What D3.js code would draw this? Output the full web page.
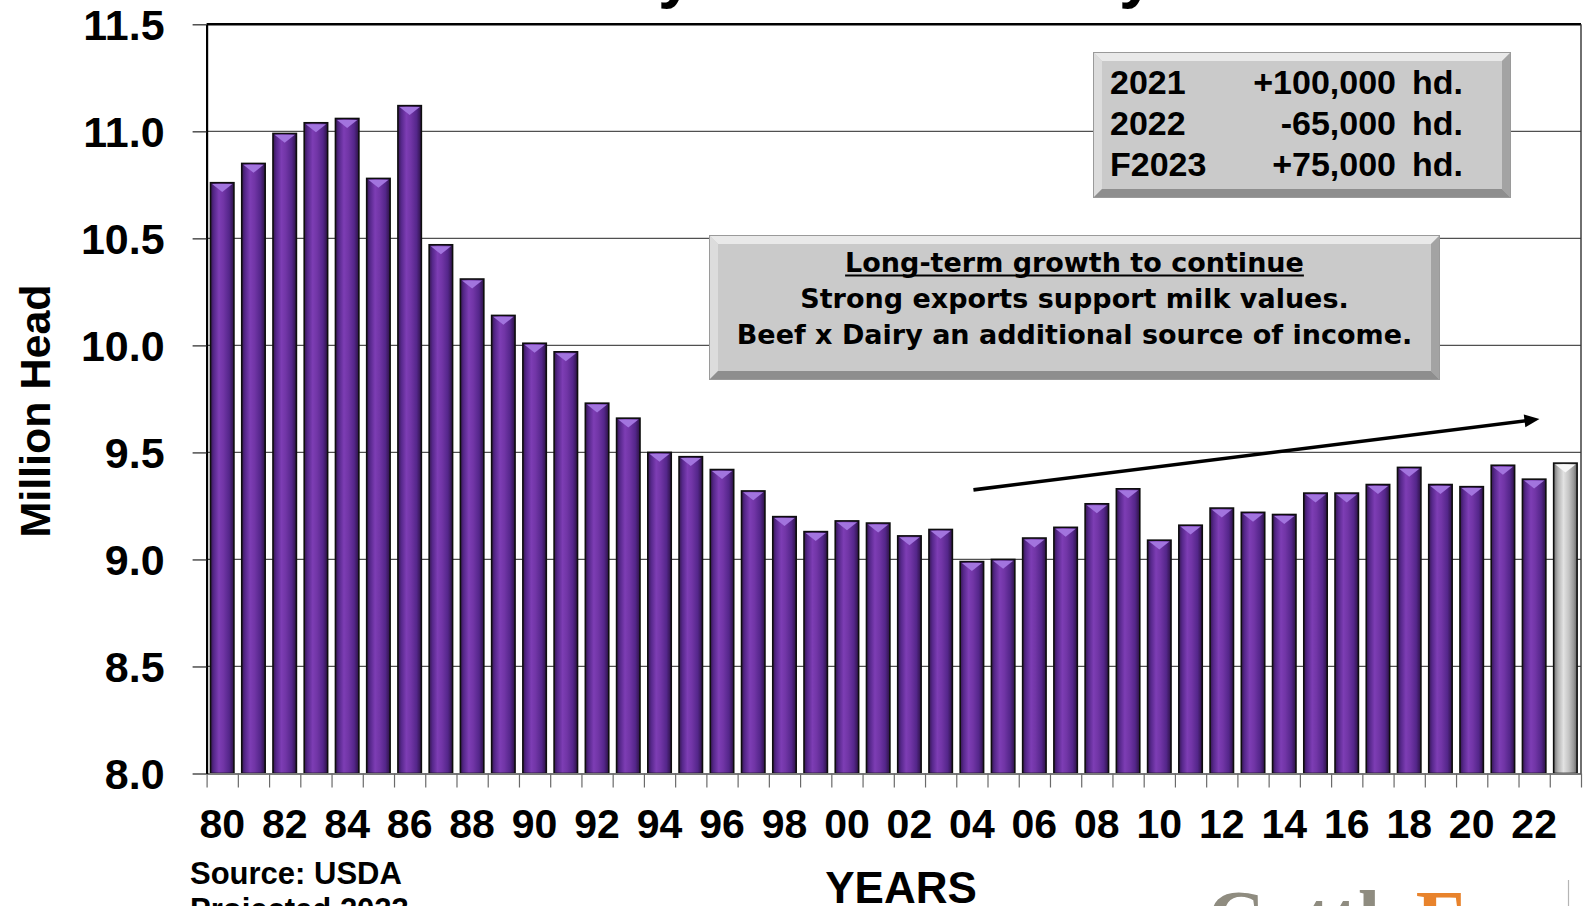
<!DOCTYPE html>
<html>
<head>
<meta charset="utf-8">
<script src="https://cdn.jsdelivr.net/npm/d3@7"></script>
<style>
  html, body { margin: 0; padding: 0; background: #fff; overflow: hidden; }
  svg { display: block; }
</style>
</head>
<body>
<svg id="chart" width="1583" height="906"></svg>
<script>
// January 1 dairy cow inventory, million head (2023 is a forecast)
const years = [
  1980, 1981, 1982, 1983, 1984, 1985, 1986, 1987, 1988, 1989,
  1990, 1991, 1992, 1993, 1994, 1995, 1996, 1997, 1998, 1999,
  2000, 2001, 2002, 2003, 2004, 2005, 2006, 2007, 2008, 2009,
  2010, 2011, 2012, 2013, 2014, 2015, 2016, 2017, 2018, 2019,
  2020, 2021, 2022, 2023
];
const dairyCows = [
  10.76, 10.85, 10.99, 11.04, 11.06, 10.78, 11.12, 10.47, 10.31, 10.14,
  10.01, 9.97, 9.73, 9.66, 9.50, 9.48, 9.42, 9.32, 9.20, 9.13,
  9.18, 9.17, 9.11, 9.14, 8.99, 9.00, 9.10, 9.15, 9.26, 9.33,
  9.09, 9.16, 9.24, 9.22, 9.21, 9.31, 9.31, 9.35, 9.43, 9.35,
  9.34, 9.44, 9.375, 9.45
];
const forecastYears = [2023];

const labeledYears = [1980, 1982, 1984, 1986, 1988, 1990, 1992, 1994, 1996, 1998,
  2000, 2002, 2004, 2006, 2008, 2010, 2012, 2014, 2016, 2018, 2020, 2022];
const yTicks = [8.0, 8.5, 9.0, 9.5, 10.0, 10.5, 11.0, 11.5];

const changeRows = [
  { year: "2021",  change: "+100,000" },
  { year: "2022",  change: "-65,000" },
  { year: "F2023", change: "+75,000" }
];
const outlookLines = [
  "Long-term growth to continue",
  "Strong exports support milk values.",
  "Beef x Dairy an additional source of income."
];
// trend arrow, in (year, million head)
const trendFrom = [2004.55, 9.325];
const trendTo = [2022.67, 9.656];

const data = years.map((yr, i) => ({ year: yr, value: dairyCows[i], forecast: forecastYears.includes(yr) }));

const W = 1583, H = 906;
const plot = { left: 206.6, right: 1581, top: 24.3, bottom: 773.5 };
const SANS = "'Liberation Sans', Arial, Helvetica, sans-serif";

const svg = d3.select("#chart");
svg.append("rect").attr("width", W).attr("height", H).attr("fill", "#fff");

const x = d3.scaleBand().domain(years).range([plot.left, plot.right])
  .paddingInner(0.25).paddingOuter(0.125);
const edge = d3.scaleLinear().domain([years[0], years[years.length - 1] + 1])
  .range([plot.left, plot.right]);
const y = d3.scaleLinear().domain([8, 11.5]).range([plot.bottom, plot.top]);

// gradients
const defs = svg.append("defs");
function hGrad(id, stops) {
  const g = defs.append("linearGradient").attr("id", id)
    .attr("x1", 0).attr("x2", 1).attr("y1", 0).attr("y2", 0);
  stops.forEach(([o, c]) => g.append("stop").attr("offset", o).attr("stop-color", c));
}
hGrad("barPurple", [[0, "#35174f"], [0.14, "#55278a"], [0.36, "#7d3db4"], [0.55, "#7135a6"], [0.8, "#54268a"], [1, "#2c1245"]]);
hGrad("barGray", [[0, "#6f6f6f"], [0.18, "#b2b2b2"], [0.42, "#e2e2e2"], [0.65, "#c4c4c4"], [0.85, "#9a9a9a"], [1, "#666"]]);

// title (runs off the top of the page)
const title = svg.append("text")
  .attr("x", 0).attr("y", -4)
  .attr("font-family", SANS).attr("font-weight", "bold").attr("font-size", 64)
  .attr("fill", "#000")
  .text("U.S. Dairy Cow Inventory");
{
  const node = title.node();
  const s = "U.S. Dairy Cow Inventory";
  const i1 = s.indexOf("y"), i2 = s.lastIndexOf("y");
  const c1 = node.getExtentOfChar(i1), c2 = node.getExtentOfChar(i2);
  const m1 = c1.x + c1.width / 2, m2 = c2.x + c2.width / 2;
  const fs = 64 * (1137 - 676) / (m2 - m1);
  title.attr("font-size", fs);
  const d1 = node.getExtentOfChar(i1);
  title.attr("x", 676 - (d1.x + d1.width / 2));
}

// gridlines
svg.append("g").selectAll("line")
  .data(yTicks.filter(t => t > 8 && t < 11.5))
  .join("line")
  .attr("x1", plot.left).attr("x2", plot.right)
  .attr("y1", d => y(d)).attr("y2", d => y(d))
  .attr("stroke", "#505050").attr("stroke-width", 1.2);

// bars
const bars = svg.append("g").selectAll("g").data(data).join("g");
bars.append("rect")
  .attr("x", d => x(d.year))
  .attr("y", d => y(d.value))
  .attr("width", x.bandwidth())
  .attr("height", d => y(8) - y(d.value))
  .attr("fill", d => d.forecast ? "url(#barGray)" : "url(#barPurple)")
  .attr("stroke", "#0e0e0e").attr("stroke-width", 1.6);
bars.append("path")
  .attr("d", d => {
    const x0 = x(d.year) + 1.6, x1 = x(d.year) + x.bandwidth() - 1.6, t = y(d.value) + 1.4;
    return `M${x0},${t}L${x1},${t}L${(x0 + x1) / 2},${t + 8}Z`;
  })
  .attr("fill", d => d.forecast ? "#f7f7f7" : "#a274de");

// x axis: ticks on the year boundaries
const xAxis = svg.append("g")
  .attr("transform", `translate(0,${plot.bottom})`)
  .call(d3.axisBottom(edge).tickValues(years.concat([years[years.length - 1] + 1]))
    .tickSize(14).tickSizeOuter(0).tickFormat(""));
xAxis.select(".domain").attr("stroke", "#7a7a7a").attr("stroke-width", 2);
xAxis.selectAll(".tick line").attr("stroke", "#6a6a6a").attr("stroke-width", 1.2);

svg.append("g").selectAll("text").data(labeledYears).join("text")
  .attr("x", d => x(d) + x.bandwidth() / 2)
  .attr("y", 838)
  .attr("text-anchor", "middle")
  .attr("font-family", SANS).attr("font-weight", "bold").attr("font-size", 41)
  .attr("fill", "#000")
  .text(d => String(d).slice(2));

// y axis
const yAxis = svg.append("g")
  .attr("transform", `translate(${plot.left},0)`)
  .call(d3.axisLeft(y).tickValues(yTicks).tickFormat(d3.format(".1f"))
    .tickSize(14).tickSizeOuter(0).tickPadding(28));
yAxis.select(".domain").attr("stroke", "#000").attr("stroke-width", 2.2);
yAxis.selectAll(".tick line").attr("stroke", "#333").attr("stroke-width", 1.3);
yAxis.selectAll(".tick text")
  .attr("font-family", SANS).attr("font-weight", "bold").attr("font-size", 43)
  .attr("fill", "#000").attr("dy", "0.36em");

// frame: top and right
svg.append("line").attr("x1", plot.left).attr("x2", plot.right)
  .attr("y1", y(11.5)).attr("y2", y(11.5))
  .attr("stroke", "#000").attr("stroke-width", 2.4);
svg.append("line").attr("x1", plot.right).attr("x2", plot.right)
  .attr("y1", y(11.5)).attr("y2", y(8))
  .attr("stroke", "#333").attr("stroke-width", 1.4);

// axis titles and source
svg.append("text")
  .attr("transform", `translate(50,411) rotate(-90)`)
  .attr("text-anchor", "middle")
  .attr("font-family", SANS).attr("font-weight", "bold").attr("font-size", 43)
  .attr("fill", "#000").text("Million Head");
svg.append("text")
  .attr("x", 901).attr("y", 903).attr("text-anchor", "middle")
  .attr("font-family", SANS).attr("font-weight", "bold").attr("font-size", 44)
  .attr("fill", "#000").text("YEARS");
svg.append("text")
  .attr("x", 190).attr("y", 884)
  .attr("font-family", SANS).attr("font-weight", "bold").attr("font-size", 31)
  .attr("fill", "#000").text("Source: USDA");
svg.append("text")
  .attr("x", 190).attr("y", 920)
  .attr("font-family", SANS).attr("font-weight", "bold").attr("font-size", 31)
  .attr("fill", "#000").text("Projected 2023");

// logo
const logo = svg.append("text")
  .attr("x", 1207).attr("y", 946)
  .attr("font-family", "'Liberation Serif', 'Times New Roman', serif")
  .attr("font-weight", "bold").attr("font-size", 80);
logo.append("tspan").attr("fill", "#8f8c80").text("Cattle");
logo.append("tspan").attr("fill", "#e8832c").text("Fax");
svg.append("line").attr("x1", 1568.5).attr("x2", 1568.5).attr("y1", 880).attr("y2", 906)
  .attr("stroke", "#b5b5b5").attr("stroke-width", 1.2);

// bevelled callout boxes
function bevelBox(bx, by, bw, bh, b) {
  const g = svg.append("g");
  g.append("rect").attr("x", bx).attr("y", by).attr("width", bw).attr("height", bh).attr("fill", "#cacaca");
  const poly = (pts, fill) => g.append("polygon").attr("points", pts.map(p => p.join(",")).join(" ")).attr("fill", fill);
  poly([[bx, by], [bx + bw, by], [bx + bw - b, by + b], [bx + b, by + b]], "#e9e9e9");
  poly([[bx, by], [bx + b, by + b], [bx + b, by + bh - b], [bx, by + bh]], "#dcdcdc");
  poly([[bx + bw, by], [bx + bw, by + bh], [bx + bw - b, by + bh - b], [bx + bw - b, by + b]], "#a3a3a3");
  poly([[bx, by + bh], [bx + b, by + bh - b], [bx + bw - b, by + bh - b], [bx + bw, by + bh]], "#8e8e8e");
  g.append("rect").attr("x", bx + 0.5).attr("y", by + 0.5).attr("width", bw - 1).attr("height", bh - 1)
    .attr("fill", "none").attr("stroke", "#9a9a9a").attr("stroke-width", 1);
  return g;
}

const box1 = bevelBox(1093, 52, 418, 146, 9);
changeRows.forEach((r, i) => {
  const by = 94 + i * 41;
  box1.append("text").attr("x", 1110).attr("y", by)
    .attr("font-family", SANS).attr("font-weight", "bold").attr("font-size", 34)
    .attr("fill", "#000").text(r.year);
  box1.append("text").attr("x", 1396).attr("y", by).attr("text-anchor", "end")
    .attr("font-family", SANS).attr("font-weight", "bold").attr("font-size", 34)
    .attr("fill", "#000").text(r.change);
  box1.append("text").attr("x", 1412).attr("y", by)
    .attr("font-family", SANS).attr("font-weight", "bold").attr("font-size", 34)
    .attr("fill", "#000").text("hd.");
});

const box2 = bevelBox(709, 235, 731, 145, 9);
outlookLines.forEach((t, i) => {
  const tx = box2.append("text").attr("x", 1074.5).attr("y", 271.5 + i * 36)
    .attr("text-anchor", "middle")
    .attr("font-family", "'DejaVu Sans', Verdana, sans-serif").attr("font-weight", "bold")
    .attr("font-size", 27).attr("fill", "#000").text(t);
  if (i === 0) {
    const len = tx.node().getComputedTextLength();
    box2.append("line").attr("x1", 1074.5 - len / 2).attr("x2", 1074.5 + len / 2)
      .attr("y1", 275.5).attr("y2", 275.5).attr("stroke", "#000").attr("stroke-width", 2);
  }
});

// trend arrow
{
  const x0 = edge(trendFrom[0]), y0 = y(trendFrom[1]);
  const x1 = edge(trendTo[0]), y1 = y(trendTo[1]);
  const ang = Math.atan2(y1 - y0, x1 - x0);
  const headLen = 15, headHalf = 6.5;
  const bx = x1 - headLen * Math.cos(ang), byy = y1 - headLen * Math.sin(ang);
  svg.append("line").attr("x1", x0).attr("y1", y0).attr("x2", bx + 2 * Math.cos(ang)).attr("y2", byy + 2 * Math.sin(ang))
    .attr("stroke", "#000").attr("stroke-width", 3.6);
  const px = -Math.sin(ang), py = Math.cos(ang);
  svg.append("polygon")
    .attr("points", [[x1, y1], [bx + px * headHalf, byy + py * headHalf], [bx - px * headHalf, byy - py * headHalf]]
      .map(p => p.join(",")).join(" "))
    .attr("fill", "#000");
}
</script>
</body>
</html>
